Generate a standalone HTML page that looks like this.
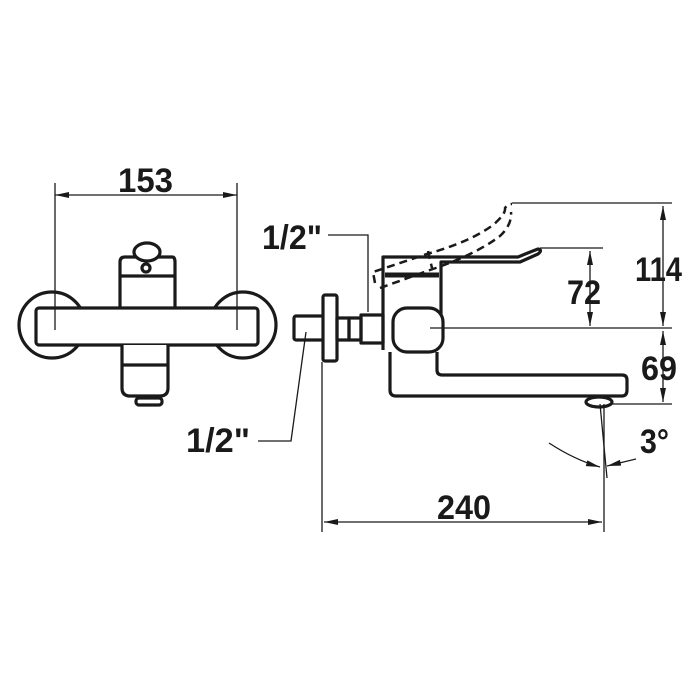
<!DOCTYPE html>
<html><head><style>html,body{margin:0;background:#fff}svg{display:block}text{font-family:"Liberation Sans",sans-serif;font-weight:bold;font-size:34px;fill:#1a1a1a}</style></head>
<body>
<svg width="700" height="700" viewBox="0 0 700 700" xmlns="http://www.w3.org/2000/svg">
<defs>
<marker id="a" viewBox="0 0 14 6" refX="14" refY="3" markerWidth="14" markerHeight="6" orient="auto-start-reverse" markerUnits="userSpaceOnUse"><path d="M0,0L14,3L0,6z" fill="#1a1a1a"/></marker>
</defs>
<g fill="none" stroke="#1a1a1a">
<!-- left view -->
<g stroke-width="3.2" stroke-linejoin="round">
<circle cx="52" cy="325" r="33" fill="#fff"/>
<circle cx="243" cy="325" r="33" fill="#fff"/>
<path d="M120,310V262Q120,257 125,257H172Q175,257 175,262V310" fill="#fff"/>
<path d="M120,276H175"/>
<ellipse cx="147" cy="252" rx="13" ry="9" fill="#fff"/>
<circle cx="146" cy="268" r="4" fill="#fff"/>
<rect x="36" y="308" width="222" height="37" rx="3" fill="#fff"/>
<path d="M122,345V388Q122,396 130,396H160Q168,396 168,388V345" fill="#fff"/>
<path d="M122,365H168"/>
<rect x="136" y="398" width="26" height="7" rx="3"/>
</g>
<g stroke-width="1.3">
<path d="M55,183V330M237,183V330"/>
<path d="M55,195H237" marker-start="url(#a)" marker-end="url(#a)"/>
</g>
<!-- right view -->
<g stroke-width="3.2" stroke-linejoin="round">
<rect x="294" y="316" width="30" height="24" rx="2"/>
<rect x="323" y="295" width="14" height="66" rx="2" fill="#fff"/>
<rect x="337" y="318" width="12" height="22"/>
<rect x="349" y="318" width="12" height="22"/>
<rect x="361" y="315" width="22" height="28"/>
<path d="M383,350V257H518Q530,252 538,249Q543,250 538,254L520,262H441V340"/>
<path d="M385,275H439" stroke-width="5"/>
<rect x="393" y="308" width="50" height="44" rx="14" fill="#fff"/>
<path d="M390,352V390Q390,396 396,396H622Q627,396 627,390V380Q627,375 622,375H442Q437,375 437,370V352"/>
<ellipse cx="599" cy="402" rx="13" ry="5" fill="#fff"/>
</g>
<path d="M375,283L373,272L427,254Q470,242 493,225Q506,214 505,208Q508,204 512,204M380,288L430,270Q475,255 500,236Q512,225 511,212M428,251L432,268" stroke-width="2.5" stroke-dasharray="8,5"/>
<g stroke-width="1.3">
<path d="M512,203H672M540,248H603M430,328H672M610,404H672"/>
<path d="M663,206V326" marker-start="url(#a)" marker-end="url(#a)"/>
<path d="M663,331V402" marker-start="url(#a)" marker-end="url(#a)"/>
<path d="M590,251V326" marker-start="url(#a)" marker-end="url(#a)"/>
<path d="M322,362V532M604,404V532"/>
<path d="M324,522H602" marker-start="url(#a)" marker-end="url(#a)"/>
<path d="M600,404L607,478"/>
<path d="M549,443Q575,460 600,467" marker-end="url(#a)"/>
<path d="M636,459L607,466" marker-end="url(#a)"/>
<path d="M328,235H368V312"/>
<path d="M258,441H291L306,332"/>
</g>
</g>
<text x="118" y="192" textLength="55" lengthAdjust="spacingAndGlyphs">153</text>
<text x="262" y="249" textLength="60" lengthAdjust="spacingAndGlyphs">1/2"</text>
<text x="186" y="452" textLength="64" lengthAdjust="spacingAndGlyphs">1/2"</text>
<text x="567" y="304" textLength="34" lengthAdjust="spacingAndGlyphs">72</text>
<text x="635" y="281" textLength="47" lengthAdjust="spacingAndGlyphs">114</text>
<text x="641" y="380" textLength="36" lengthAdjust="spacingAndGlyphs">69</text>
<text x="437" y="519" textLength="54" lengthAdjust="spacingAndGlyphs">240</text>
<text x="640" y="453" textLength="29" lengthAdjust="spacingAndGlyphs">3°</text>
</svg>
</body></html>
